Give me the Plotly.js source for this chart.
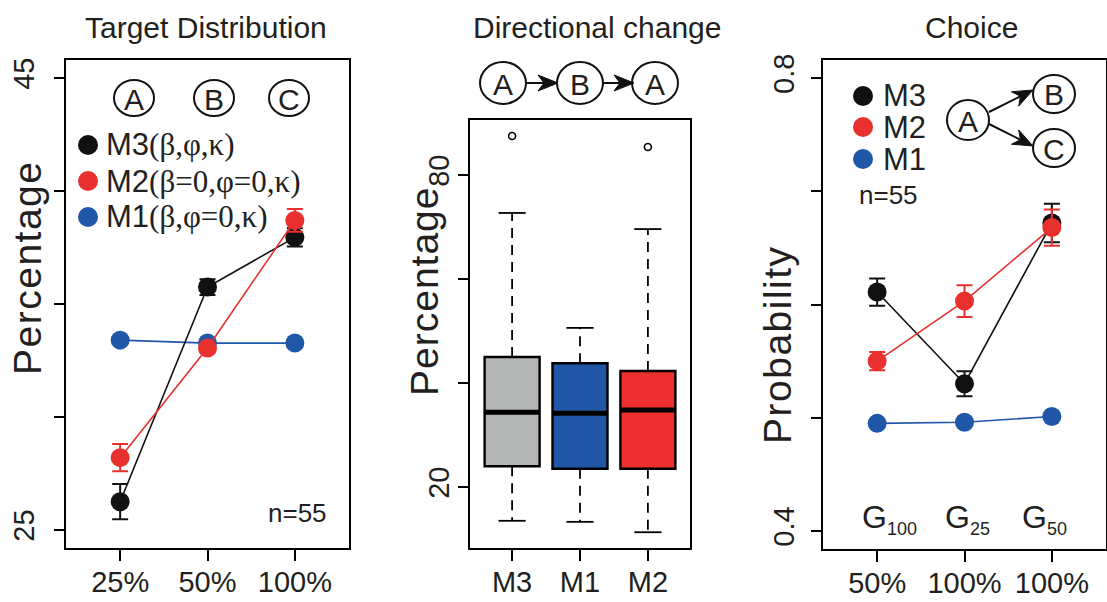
<!DOCTYPE html>
<html>
<head>
<meta charset="utf-8">
<script src="https://cdn.plot.ly/plotly-3.0.1.min.js"></script>
<style>html,body{margin:0;padding:0;background:#fff;}#chart{width:1107px;height:602px;}</style>
</head>
<body>
<div id="chart"></div>
<script>
// ---------- data ----------
const tdCats = ['25%', '50%', '100%'];
const tdM3 = [26.25, 35.75, 37.95];
const tdM3Err = [0.78, 0.35, 0.4];
const tdM2 = [28.2, 33.05, 38.7];
const tdM2Err = [0.6, 0.2, 0.5];
const tdM1 = [33.4, 33.27, 33.27];
const tdTicksLabeled = [25, 45];
const tdTicksMinor = [30, 35, 40];

const dcCats = ['M3', 'M1', 'M2'];
const dcQ1 = [24.0, 23.5, 23.5];
const dcMedian = [34.4, 34.2, 34.8];
const dcQ3 = [45.0, 43.8, 42.3];
const dcLower = [13.5, 13.3, 11.3];
const dcUpper = [72.7, 50.6, 69.6];
const dcOutlierCat = ['M3', 'M2'];
const dcOutliers = [87.5, 85.4];
const dcTicksLabeled = [20, 80];
const dcTicksMinor = [40, 60];

const chCats = ['50%', '100%', '100%'];
const chSub = ['100', '25', '50'];
const chM3 = [0.611, 0.530, 0.672];
const chM3Err = [0.012, 0.011, 0.017];
const chM2 = [0.550, 0.603, 0.668];
const chM2Err = [0.008, 0.014, 0.016];
const chM1 = [0.495, 0.496, 0.501];
const chTicksLabeled = [0.4, 0.8];
const chTicksMinor = [0.5, 0.6, 0.7];

// ---------- styling ----------
const W = 1107, H = 602;
const px = x => x / W, py = y => 1 - y / H;
const SANS = 'Liberation Sans, Arial, sans-serif';
const SERIF = 'Liberation Serif';
const TXT = '#231f20';
const cBlack = '#111111', cRed = '#e8302f', cBlue = '#2057a8';
const boxFill = ['#b3b6b5', '#2257a7', '#ee2f2f'];
const pos = [1, 2, 3];

const traces = [];
function lineTrace(xa, ya, y, color, err) {
  const t = {
    type: 'scatter', mode: 'lines+markers', x: pos, y: y, xaxis: xa, yaxis: ya,
    line: {color: color, width: 1.6}, marker: {color: color, size: 19},
    showlegend: false, hoverinfo: 'skip'
  };
  if (err) t.error_y = {type: 'data', array: err, color: color, thickness: 2, width: 8};
  return t;
}
// Left panel
traces.push(lineTrace('x', 'y', tdM1, cBlue));
traces.push(lineTrace('x', 'y', tdM3, cBlack, tdM3Err));
traces.push(lineTrace('x', 'y', tdM2, cRed, tdM2Err));
// Right panel
traces.push(lineTrace('x3', 'y3', chM1, cBlue));
traces.push(lineTrace('x3', 'y3', chM3, cBlack, chM3Err));
traces.push(lineTrace('x3', 'y3', chM2, cRed, chM2Err));

// Middle panel: boxes
const bw = 0.81, cap = 0.2;
dcCats.forEach((c, i) => {
  const xp = pos[i];
  traces.push({type: 'scatter', mode: 'lines', xaxis: 'x2', yaxis: 'y2',
    x: [xp, xp, null, xp, xp], y: [dcQ3[i], dcUpper[i], null, dcQ1[i], dcLower[i]],
    line: {color: '#000', width: 1.8, dash: '10px,7px'}, showlegend: false, hoverinfo: 'skip'});
  traces.push({type: 'scatter', mode: 'lines', xaxis: 'x2', yaxis: 'y2',
    x: [xp - cap, xp + cap, null, xp - cap, xp + cap], y: [dcUpper[i], dcUpper[i], null, dcLower[i], dcLower[i]],
    line: {color: '#000', width: 1.8}, showlegend: false, hoverinfo: 'skip'});
  traces.push({type: 'box', xaxis: 'x2', yaxis: 'y2', x: [xp],
    q1: [dcQ1[i]], median: [dcMedian[i]], q3: [dcQ3[i]],
    lowerfence: [dcQ1[i]], upperfence: [dcQ3[i]],
    width: bw, fillcolor: boxFill[i], line: {color: '#000', width: 2.4},
    boxpoints: false, showlegend: false, hoverinfo: 'skip'});
  traces.push({type: 'scatter', mode: 'lines', xaxis: 'x2', yaxis: 'y2',
    x: [xp - bw / 2, xp + bw / 2], y: [dcMedian[i], dcMedian[i]],
    line: {color: '#000', width: 5}, showlegend: false, hoverinfo: 'skip'});
});
traces.push({type: 'scatter', mode: 'markers', xaxis: 'x2', yaxis: 'y2',
  x: dcOutlierCat.map(c => pos[dcCats.indexOf(c)]), y: dcOutliers,
  marker: {symbol: 'circle-open', size: 7, color: '#000', line: {width: 1.6}},
  showlegend: false, hoverinfo: 'skip'});

// ---------- axes ----------
function xAx(domain, anchor, labels) {
  return {domain: domain, anchor: anchor, range: [0.38, 3.62], tickvals: pos, ticktext: labels,
    showline: true, mirror: true, linecolor: '#000', linewidth: 2, ticks: 'outside', ticklen: 11,
    tickwidth: 2, tickcolor: '#000', showgrid: false, zeroline: false, fixedrange: true,
    tickangle: 0, tickfont: {family: SANS, size: 29, color: TXT}, ticklabelstandoff: -4};
}
function yAx(domain, anchor, range, vals, minorVals, standoff) {
  return {domain: domain, anchor: anchor, range: range, tickvals: vals, ticktext: vals.map(String),
    showline: true, mirror: true, linecolor: '#000', linewidth: 2, ticks: 'outside', ticklen: 10,
    tickwidth: 2, tickcolor: '#000', showgrid: false, zeroline: false, fixedrange: true,
    minor: {tickvals: minorVals, ticks: 'outside', ticklen: 10, tickwidth: 2, tickcolor: '#000', showgrid: false},
    tickangle: -90, tickfont: {family: SANS, size: 29, color: TXT}, ticklabelstandoff: standoff};
}

const layout = {
  width: W, height: H, margin: {l: 0, r: 0, t: 0, b: 0},
  paper_bgcolor: '#fff', plot_bgcolor: 'rgba(0,0,0,0)', showlegend: false,
  xaxis: xAx([px(66), px(349)], 'y', tdCats),
  yaxis: yAx([py(548), py(60)], 'x', [24.2, 45.8], tdTicksLabeled, tdTicksMinor, 8),
  xaxis2: xAx([px(470), px(690)], 'y2', dcCats),
  yaxis2: yAx([py(548), py(120)], 'x2', [8.27, 90.58], dcTicksLabeled, dcTicksMinor, -3),
  xaxis3: xAx([px(823), px(1106)], 'y3', chCats),
  yaxis3: yAx([py(549), py(60)], 'x3', [0.384, 0.816], chTicksLabeled, chTicksMinor, 5),
  shapes: [], annotations: []
};

function ann(text, x, y, font, extra) {
  return Object.assign({text: text, x: px(x), y: py(y), xref: 'paper', yref: 'paper',
    showarrow: false, font: font, xanchor: 'center', yanchor: 'middle'}, extra || {});
}
function circle(cx, cy, rw, rh, fill) {
  return {type: 'circle', xref: 'paper', yref: 'paper', x0: px(cx - rw), x1: px(cx + rw),
    y0: py(cy + rh), y1: py(cy - rh), line: {color: fill ? fill : '#111', width: fill ? 0 : 2},
    fillcolor: fill ? fill : 'rgba(0,0,0,0)', layer: 'above'};
}
// arrow as shapes: shaft line + notched filled head (pixel geometry -> paper)
function arrowShapes(sx, sy, tx, ty) {
  const dx = tx - sx, dy = ty - sy, L = Math.hypot(dx, dy);
  const ux = dx / L, uy = dy / L, nx = -uy, ny = ux;
  const hl = 20, hw = 8, notch = 6;
  const bx = tx - ux * hl, by = ty - uy * hl;
  const p = (x, y) => px(x).toFixed(5) + ',' + py(y).toFixed(5);
  const path = 'M' + p(tx, ty) + ' L' + p(bx + nx * hw, by + ny * hw) +
    ' L' + p(tx - ux * (hl - notch), ty - uy * (hl - notch)) +
    ' L' + p(bx - nx * hw, by - ny * hw) + ' Z';
  return [
    {type: 'line', xref: 'paper', yref: 'paper', x0: px(sx), y0: py(sy),
      x1: px(tx - ux * (hl - notch)), y1: py(ty - uy * (hl - notch)), line: {color: '#111', width: 2}, layer: 'above'},
    {type: 'path', xref: 'paper', yref: 'paper', path: path, fillcolor: '#111', line: {color: '#111', width: 1}, layer: 'above'}
  ];
}
const A = layout.annotations, S = layout.shapes;

// Titles
const titleFont = {family: SANS, size: 30, color: TXT};
A.push(ann('Target Distribution', 206, 27, titleFont));
A.push(ann('Directional change', 597, 27, titleFont));
A.push(ann('Choice', 971, 27, titleFont));

// Y axis titles
const yTitleFont = {family: SANS, size: 39, color: TXT};
A.push(ann('<span style="letter-spacing:1.5px">Percentage</span>', 27, 268, yTitleFont, {textangle: -90}));
A.push(ann('<span style="letter-spacing:1px">Percentage</span>', 424, 292, yTitleFont, {textangle: -90}));
A.push(ann('<span style="letter-spacing:1.5px">Probability</span>', 777, 345, yTitleFont, {textangle: -90}));

// Left panel: circled letters
const letterFont = {family: SANS, size: 30, color: TXT};
[['A', 134], ['B', 214], ['C', 289]].forEach(([t, x]) => {
  S.push(circle(x, 98, 20, 18));
  A.push(ann(t, x, 99, letterFont));
});
// Left legend
const legFont = {family: SANS, size: 31, color: TXT};
const legRows = [
  [cBlack, 'M3', '(β,φ,κ)', 145],
  [cRed, 'M2', '(β=0,φ=0,κ)', 181],
  [cBlue, 'M1', '(β,φ=0,κ)', 217]
];
legRows.forEach(([col, m, p, y]) => {
  S.push(circle(88, y, 10, 10, col));
  A.push(ann(m + '<span style="font-family:' + SERIF + ';font-size:31px">' + p + '</span>', 104, y, legFont, {xanchor: 'left'}));
});
A.push(ann('n=55', 297, 513, {family: SANS, size: 26, color: TXT}));

// Middle: A -> B -> A
[['A', 503], ['B', 580], ['A', 655]].forEach(([t, x]) => {
  S.push(circle(x, 83, 23, 21));
  A.push(ann(t, x, 84, letterFont));
});
S.push(...arrowShapes(526, 83, 558, 83));
S.push(...arrowShapes(603, 83, 634, 83));

// Right legend
[[cBlack, 'M3', 96], [cRed, 'M2', 127], [cBlue, 'M1', 159]].forEach(([col, m, y]) => {
  S.push(circle(863, y, 10, 10, col));
  A.push(ann(m, 881, y, legFont, {xanchor: 'left'}));
});
A.push(ann('n=55', 888, 195, {family: SANS, size: 26, color: TXT}));
// Right diagram
S.push(circle(968, 120, 21, 20));
A.push(ann('A', 968, 121, letterFont));
S.push(circle(1054, 94, 21, 19));
A.push(ann('B', 1054, 95, letterFont));
S.push(circle(1054, 148, 21, 19));
A.push(ann('C', 1054, 149, letterFont));
S.push(...arrowShapes(989, 112, 1033, 90));
S.push(...arrowShapes(989, 124, 1033, 146));
// G labels
[[889, 0], [967, 1], [1044, 2]].forEach(([x, i]) => {
  A.push(ann('G<sub><span style="font-size:18px">' + chSub[i] + '</span></sub>', x, 519, {family: SANS, size: 32, color: TXT}));
});

Plotly.newPlot('chart', traces, layout, {staticPlot: true, displayModeBar: false});
</script>
</body>
</html>
